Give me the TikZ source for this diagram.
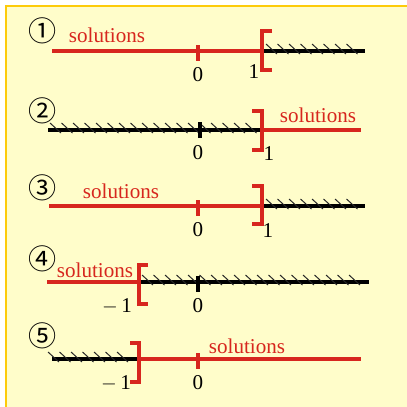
\documentclass[tikz,border=0pt]{standalone}
\usepackage{fontspec}
\setmainfont{Liberation Serif}
\newfontfamily\circfont{Noto Sans CJK SC}
\definecolor{solred}{HTML}{D7261E}
\definecolor{paper}{HTML}{FFFDCA}
\definecolor{cadre}{HTML}{FDCB0A}
\begin{document}
\begin{tikzpicture}[
x=0.25mm,y=-0.25mm,
every node/.style={
inner sep=0pt,
font=\fontsize{15}{18}\selectfont
},
axe/.style={line width=0.8mm},
sol/.style={line width=0.8mm, solred},
hatch/.style={line width=0.25mm, black!85},
crochet/.style={line width=0.8mm, solred},
num/.style={font=\circfont\fontsize{20}{22}\selectfont},
soltxt/.style={text=solred}
]

\useasboundingbox (0,0) rectangle (407,407);
\fill[paper] (6,6) rectangle (407,407);
\draw[cadre, line width=0.6mm] (6,407) -- (6,6) -- (407,6);

% 1 : x <= 1
\node[num] (n1) at (43,31) {①};
\node[soltxt] (s1) at (107,35) {solutions};
\draw[sol] (52,51) -- (262,51);
\draw[axe] (262,51) -- (365,51);
\foreach \x in {266,277.5,...,355}
\draw[hatch] (\x,44) -- ++(11,10);
\draw[sol] (198,45) -- (198,61);
\draw[crochet] (272,31) -- (262,31) -- (262,70) -- (272,70);
\node (z1) at (198,75) {0};
\node (u1) at (254,72) {1};

% 2 : x > 1
\node[num] (n2) at (43,111) {②};
\node[soltxt] (s2) at (318,115) {solutions};
\draw[axe] (48,130) -- (262,130);
\draw[sol] (262,130) -- (361,130);
\foreach \x in {50,61.5,...,249}
\draw[hatch] (\x,123) -- ++(11,10);
\draw[axe] (200,122) -- (200,138);
\draw[crochet] (252,111) -- (262,111) -- (262,150) -- (252,150);
\node (z2) at (198,153) {0};
\node (u2) at (269,154) {1};

% 3 : x < 1
\node[num] (n3) at (43,188) {③};
\node[soltxt] (s3) at (121,191) {solutions};
\draw[sol] (49,206) -- (262,206);
\draw[axe] (262,206) -- (365,206);
\foreach \x in {266,277.5,...,355}
\draw[hatch] (\x,199) -- ++(11,10);
\draw[sol] (198,200) -- (198,216);
\draw[crochet] (252,186) -- (262,186) -- (262,224) -- (252,224);
\node (z3) at (198,230) {0};
\node (u3) at (268,231) {1};

% 4 : x <= -1
\node[num] (n4) at (43,259) {④};
\node[soltxt] (s4) at (95,270) {solutions};
\draw[sol] (47,282) -- (139,282);
\draw[axe] (139,282) -- (369,282);
\foreach \x in {142,153.5,...,352}
\draw[hatch] (\x,275) -- ++(11,10);
\draw[axe] (198,276) -- (198,292);
\draw[crochet] (148,265) -- (139,265) -- (139,304) -- (148,304);
\node (m4) at (117,306) {$-$\,1};
\node (z4) at (198,306) {0};

% 5 : x > -1
\node[num] (n5) at (43,336) {⑤};
\node[soltxt] (s5) at (247,346) {solutions};
\draw[axe] (52,359) -- (139,359);
\draw[sol] (139,359) -- (361,359);
\foreach \x in {48,59.5,...,125}
\draw[hatch] (\x,352) -- ++(11,10);
\draw[sol] (198,353) -- (198,369);
\draw[crochet] (130,343) -- (139,343) -- (139,382) -- (130,382);
\node (m5) at (116,383) {$-$\,1};
\node (z5) at (198,383) {0};

\end{tikzpicture}
\end{document}
